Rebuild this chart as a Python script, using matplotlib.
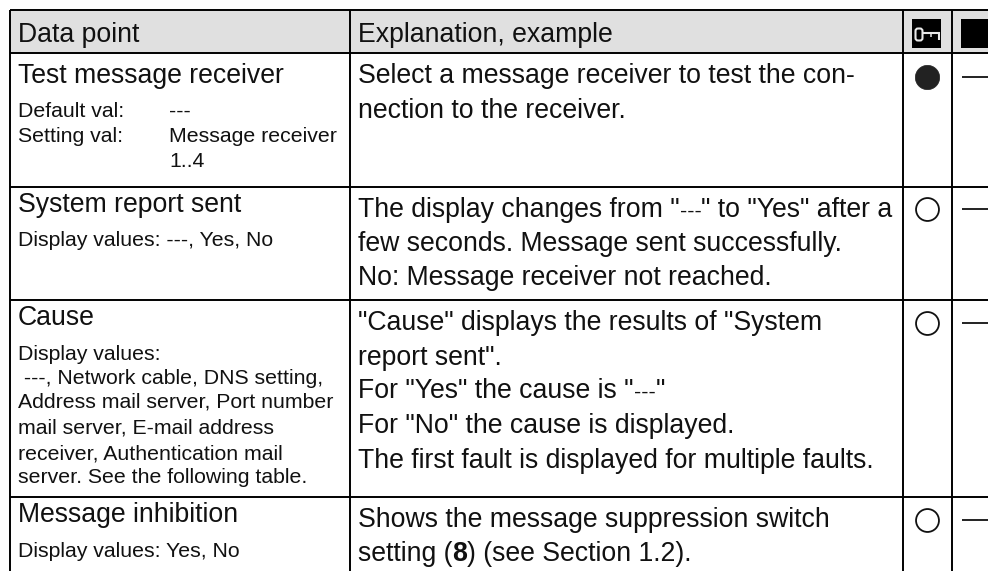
import matplotlib
matplotlib.use("Agg")
import matplotlib.pyplot as plt
from matplotlib.patches import Rectangle, FancyBboxPatch

plt.rcParams['font.family'] = ['Liberation Sans', 'DejaVu Sans']

W, H = 988, 571

# table content
headers = ["Data point", "Explanation, example"]
row_names = ["Test message receiver", "System report sent", "Cause", "Message inhibition"]
row_access = ["filled", "open", "open", "open"]
explanations = [
    ["Select a message receiver to test the con-", "nection to the receiver."],
    ['The display changes from "---" to "Yes" after a', "few seconds. Message sent successfully.",
     "No: Message receiver not reached."],
    ['"Cause" displays the results of "System', 'report sent".', 'For "Yes" the cause is "---"',
     'For "No" the cause is displayed.', "The first fault is displayed for multiple faults."],
    ["Shows the message suppression switch"],
]
last_line = ["setting (", "8", ") (see Section 1.2)."]
details = [
    ["Default val:", "Setting val:"],
    ["Display values: ---, Yes, No"],
    ["Display values:", " ---, Network cable, DNS setting,", "Address mail server, Port number",
     "mail server, E-mail address", "receiver, Authentication mail", "server. See the following table."],
    ["Display values: Yes, No"],
]
setting_vals = ["---", "Message receiver", "1..4"]

# layout in pixels, text y are baselines
col_x = [10, 350, 903, 952]
row_y = [10, 53, 187, 300, 497, 571]
name_y = [83, 212, 325, 522]
expl_y = [[83, 118], [217, 251, 285], [330, 365, 398, 433, 468], [527]]
detail_y = [[117, 142], [246], [360, 384, 408, 433, 459, 483], [557]]
setting_y = [117, 142, 167]
marker_y = [77, 209, 323, 520]

fig = plt.figure(figsize=(W / 100, H / 100), dpi=100)
ax = fig.add_axes([0, 0, 1, 1])
ax.set_xlim(0, W)
ax.set_ylim(H, 0)
ax.axis("off")

# header band
ax.add_patch(Rectangle((col_x[0], row_y[0]), W - col_x[0], row_y[1] - row_y[0], color="#e0e0e0", lw=0))

# grid lines
for y in row_y[:-1]:
    ax.plot([col_x[0], W], [y, y], color="black", lw=1.4, solid_capstyle="butt")
for x in col_x:
    ax.plot([x, x], [row_y[0], row_y[-1]], color="black", lw=1.4, solid_capstyle="butt")

big = 19.15
small = 15.3
ink = "#111111"
renderer = fig.canvas.get_renderer()


def draw_pieces(x, y, pieces):
    # pieces are (text, size, weight), each one starts where the last one ended
    for piece, size, weight in pieces:
        t = ax.text(x, y, piece, fontsize=size, va="baseline", color=ink, fontweight=weight)
        x += t.get_window_extent(renderer).width


ax.text(18, 42, headers[0], fontsize=big, va="baseline", color=ink)
ax.text(358, 42, headers[1], fontsize=big, va="baseline", color=ink)

# key icon and black header box
ax.add_patch(Rectangle((912, 19), 29, 29, color="black", lw=0))
ax.add_patch(Rectangle((961, 19), 27, 29, color="black", lw=0))
ax.add_patch(FancyBboxPatch((916.5, 29.5), 5, 10, boxstyle="round,pad=1,rounding_size=2.5",
                            fc="black", ec="#e8e8e8", lw=1.5))
ax.plot([923, 940], [33, 33], color="#e8e8e8", lw=1.5, solid_capstyle="butt")
ax.plot([931, 931], [33, 37], color="#e8e8e8", lw=1.1, solid_capstyle="butt")
ax.plot([939, 939], [32, 40], color="#e8e8e8", lw=1.5, solid_capstyle="butt")

for name, y in zip(row_names, name_y):
    ax.text(18, y, name, fontsize=big, va="baseline", color=ink)

# the --- inside the explanations is set smaller than the text around it
for lines, ys in zip(explanations, expl_y):
    for line, y in zip(lines, ys):
        parts = line.split("---")
        pieces = []
        for i, part in enumerate(parts):
            if i > 0:
                pieces.append(("---", small, "normal"))
            if part:
                pieces.append((part, big, "normal"))
        draw_pieces(358, y, pieces)

# last line has a bold digit in it
draw_pieces(358, 561, [(last_line[0], big, "normal"), (last_line[1], big, "bold"), (last_line[2], big, "normal")])

for lines, ys in zip(details, detail_y):
    for line, y in zip(lines, ys):
        ax.text(18, y, line, fontsize=small, va="baseline", color=ink)

for line, y in zip(setting_vals, setting_y):
    ax.text(169, y, line, fontsize=small, va="baseline", color=ink)

for kind, y in zip(row_access, marker_y):
    if kind == "filled":
        ax.plot(926.5, y, "o", ms=17.5, mfc="#222222", mec="#222222", mew=0.5)
    else:
        ax.plot(926.5, y, "o", ms=16.5, mfc="white", mec=ink, mew=1.3)
    ax.plot([962, 988], [y, y], color=ink, lw=1.3, solid_capstyle="butt")

fig.savefig("out.png", dpi=100)
